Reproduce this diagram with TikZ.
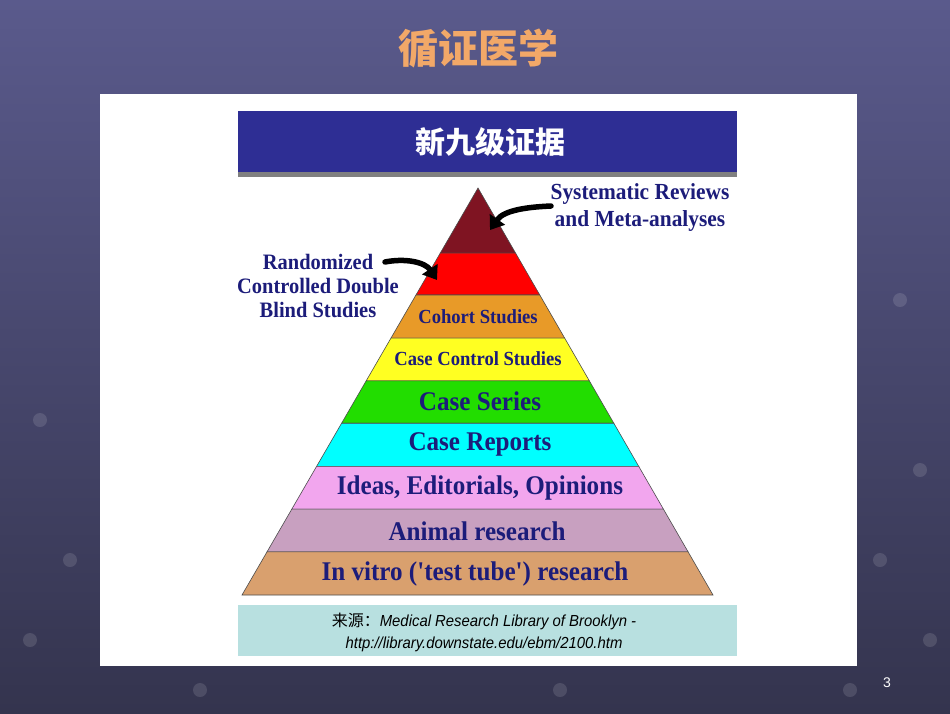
\documentclass[tikz,border=0pt]{standalone}
\usepackage{fontspec}
\setmainfont{Liberation Serif}
\newfontfamily\cjk{Noto Sans CJK SC}
\newfontfamily\sans{Liberation Sans}
\usetikzlibrary{calc,arrows.meta}
\definecolor{bgA}{HTML}{5A5A8C}
\definecolor{bgB}{HTML}{34344E}
\definecolor{navy}{HTML}{1C1C7A}
\definecolor{hdr}{HTML}{2E2E94}
\definecolor{srcbg}{HTML}{B8E0E0}
\newcommand{\cnd}[1]{\scalebox{0.93}[1]{#1}}
\tikzset{band/.style={draw=black!70,line width=0.6pt},
  lbl/.style={text=navy,font=\bfseries,inner sep=0pt},
  arr/.style={line width=5.5pt,-{Triangle[length=13pt,width=18pt]},line cap=round}}
\begin{document}
\begin{tikzpicture}[x=1pt,y=-1pt]
\useasboundingbox (0,0) rectangle (950,713);
\shade[top color=bgA,bottom color=bgB] (0,0) rectangle (950,713);
\foreach \x/\y in {40/420,70/560,30/640,900/300,920/470,880/560,930/640,850/690,560/690,200/690}
  \fill[white,opacity=0.12] (\x,\y) circle (7);
\node (title) at (478,48) {\cjk\bfseries\fontsize{40}{44}\selectfont\color[HTML]{F2A868}循证医学};
\fill[white] (100,94) rectangle (857,666);
\fill[hdr] (238,111) rectangle (737,172);
\fill[gray] (238,172) rectangle (737,177);
\node (hdrtxt) at (490,142) {\cjk\bfseries\fontsize{30}{34}\selectfont\color{white}新九级证据};
\coordinate (apex) at (478,188);
\coordinate (bl) at (242,595);
\coordinate (br) at (713,595);
\foreach \a/\b/\c in {0/0.160/7F1422,0.160/0.263/FF0000,0.263/0.369/E89A28,0.369/0.474/FFFF22,0.474/0.578/22DD00,0.578/0.684/00FFFF,0.684/0.789/F2A6EE,0.789/0.894/C8A0C0,0.894/1/D9A06E}{
  \definecolor{bandc}{HTML}{\c}
  \filldraw[band,fill=bandc] ($(apex)!\a!(bl)$) -- ($(apex)!\b!(bl)$) -- ($(apex)!\b!(br)$) -- ($(apex)!\a!(br)$) -- cycle;}
\node[lbl,font=\bfseries\fontsize{20}{22}\selectfont] (l3) at (478,317) {\cnd{Cohort Studies}};
\node[lbl,font=\bfseries\fontsize{20}{22}\selectfont] (l4) at (478,359) {\cnd{Case Control Studies}};
\node[lbl,font=\bfseries\fontsize{27}{30}\selectfont] (l5) at (480,401) {\cnd{Case Series}};
\node[lbl,font=\bfseries\fontsize{27}{30}\selectfont] (l6) at (480,444) {\cnd{Case Reports}};
\node[lbl,font=\bfseries\fontsize{27}{30}\selectfont] (l7) at (480,488) {\cnd{Ideas, Editorials, Opinions}};
\node[lbl,font=\bfseries\fontsize{27}{30}\selectfont] (l8) at (477,531) {\cnd{Animal research}};
\node[lbl,font=\bfseries\fontsize{27}{30}\selectfont] (l9) at (475,574) {\cnd{In vitro (\textquotesingle test tube\textquotesingle) research}};
\node[lbl,align=center,font=\bfseries\fontsize{23}{27}\selectfont] (sr) at (640,207) {\cnd{Systematic Reviews}\\\cnd{and Meta-analyses}};
\node[lbl,align=center,font=\bfseries\fontsize{22}{24}\selectfont] (rc) at (318,286) {\cnd{Randomized}\\\cnd{Controlled Double}\\\cnd{Blind Studies}};
\coordinate (a1) at (551,206);
\coordinate (t1) at (490,230);
\coordinate (a2) at (385,262);
\coordinate (t2) at (437,280);
\draw[arr] (a1) .. controls (528,207) and (504,210) .. (t1);
\draw[arr] (a2) .. controls (405,258) and (425,262) .. (t2);
\fill[srcbg] (238,605) rectangle (737,656);
\node[align=center,font=\sans\fontsize{16}{22}\selectfont,inner sep=0pt] (src) at (484,632) {{\cjk 来源：}\textit{\cnd{Medical Research Library of Brooklyn -}}\\\textit{\cnd{http://library.downstate.edu/ebm/2100.htm}}};
\node[text=white,font=\sans\fontsize{14}{16}\selectfont] (pg) at (887,683) {3};
\end{tikzpicture}
\end{document}
